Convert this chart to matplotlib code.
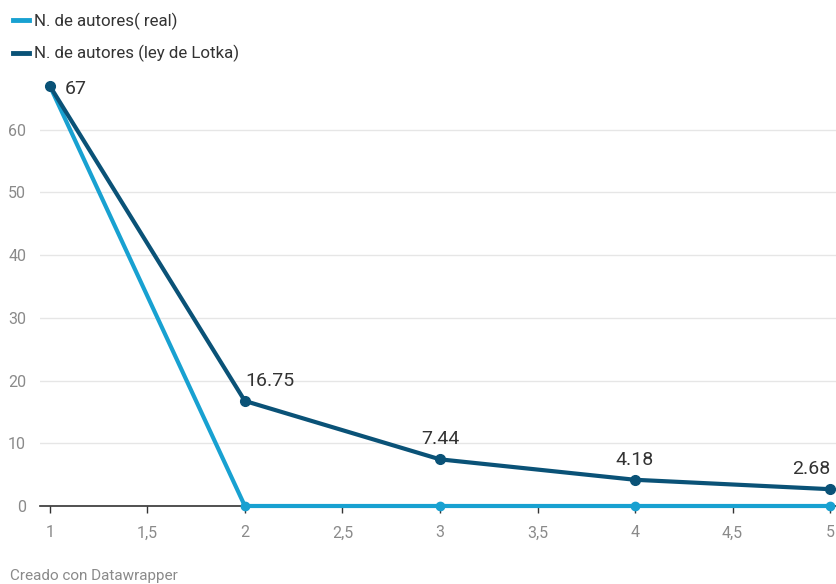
import matplotlib
matplotlib.use("Agg")
import matplotlib.pyplot as plt
from matplotlib.lines import Line2D

# Data
x_vals = [1, 2, 3, 4, 5]
real = [67, 0, 0, 0, 0]
lotka = [67, 16.75, 7.44, 4.18, 2.68]
lotka_labels = ["67", "16.75", "7.44", "4.18", "2.68"]
x_ticks = [1, 1.5, 2, 2.5, 3, 3.5, 4, 4.5, 5]
x_tick_labels = ["1", "1,5", "2", "2,5", "3", "3,5", "4", "4,5", "5"]
y_ticks = [0, 10, 20, 30, 40, 50, 60]

LIGHT = "#18a1d1"
DARK = "#0a5277"
GRID = "#e6e6e6"
MUTED = "#8a8a8a"
TEXT = "#333333"

plt.rcParams["font.family"] = ["Roboto", "DejaVu Sans"]

fig = plt.figure(figsize=(8.36, 5.84), dpi=100)
ax = fig.add_axes([40 / 836, 78 / 584, 796 / 836, (506 - 67) / 584])

ax.plot(x_vals, real, color=LIGHT, linewidth=3, marker="o", markersize=6,
        clip_on=False, zorder=3)
ax.plot(x_vals, lotka, color=DARK, linewidth=3, marker="o", markersize=7,
        clip_on=False, zorder=4)

ax.annotate(lotka_labels[0], xy=(x_vals[0], lotka[0]), xytext=(11, -2),
            textcoords="offset points", ha="left", va="center",
            fontsize=14, color=TEXT)
for xv, yv, lab in zip(x_vals[1:], lotka[1:], lotka_labels[1:]):
    ax.annotate(lab, xy=(xv, yv), xytext=(0, 8), textcoords="offset points",
                ha="left" if xv == 2 else ("right" if xv == 5 else "center"),
                va="bottom", fontsize=14, color=TEXT)

ax.set_xlim(0.95, 5.03)
ax.set_ylim(0, 70)
ax.set_xticks(x_ticks)
ax.set_xticklabels(x_tick_labels)
ax.set_yticks(y_ticks)
ax.tick_params(axis="x", length=5, width=1, colors="#333333",
               labelcolor=MUTED, labelsize=11.5, pad=9)
ax.tick_params(axis="y", length=0, labelcolor=MUTED, labelsize=11.5, pad=10)

for s in ["top", "right", "left"]:
    ax.spines[s].set_visible(False)
ax.spines["bottom"].set_color("#333333")
ax.spines["bottom"].set_linewidth(1.2)
ax.yaxis.grid(True, color=GRID, linewidth=1, zorder=0)
ax.set_axisbelow(True)

handles = [Line2D([0], [0], color=LIGHT, linewidth=3.5),
           Line2D([0], [0], color=DARK, linewidth=3.5)]
fig.legend(handles, ["N. de autores( real)", "N. de autores (ley de Lotka)"],
           loc="upper left", bbox_to_anchor=(0.0, 1.0), frameon=False,
           fontsize=12.2, handlelength=0.95, handletextpad=0.3,
           labelspacing=0.9, labelcolor=TEXT, borderaxespad=0.35)

fig.text(10 / 836, 1 - 576 / 584, "Creado con Datawrapper", fontsize=11,
         color=MUTED, ha="left", va="center")

fig.savefig("out.png", dpi=100, facecolor="white")
